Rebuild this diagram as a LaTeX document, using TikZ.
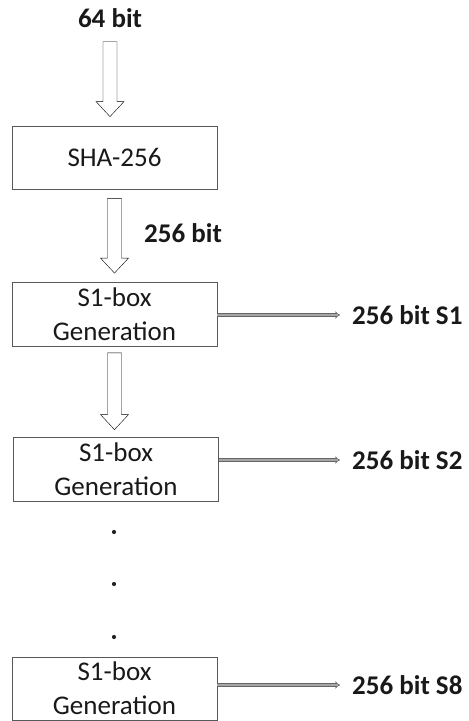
\documentclass[tikz,border=0pt]{standalone}
\usepackage{fontspec}
\setmainfont{Carlito}
\usetikzlibrary{calc,arrows.meta}

\tikzset{
  box/.style={draw=black!65, line width=0.8pt, minimum width=205pt, minimum height=64pt,
    align=center, text=black!90, font=\fontsize{27}{34}\selectfont},
  lbl/.style={inner sep=2pt, text=black!90, font=\fontsize{27}{32}\selectfont\bfseries},
  dot/.style={circle, fill=black!85, inner sep=0pt, minimum size=4.2pt},
  % wide hollow arrow going down, #1 = gap at the top, #2 = gap at the tip
  hollow/.style 2 args={draw=black!65, line width=0.8pt, to path={
    let \p1=(\tikztostart.south), \p2=(\tikztotarget.north) in
    (\x1-7pt,\y1-#1) -- (\x1-7pt,\y2+#2+15pt) -- (\x1-14pt,\y2+#2+15pt) -- (\x1,\y2+#2)
    -- (\x1+14pt,\y2+#2+15pt) -- (\x1+7pt,\y2+#2+15pt) -- (\x1+7pt,\y1-#1) -- cycle}},
  % thin double arrow out to the key
  keyarrow/.style={draw=black!60, double=black!35, double distance=1.6pt, line width=0.8pt,
    -{Implies[length=4pt]}}
}

\begin{document}
\begin{tikzpicture}[x=1pt,y=-1pt]
    \useasboundingbox (0,0) rectangle (469,721);
    \coordinate (IN) at (110,18);
    \coordinate (H) at (114.5,157.5);
    \coordinate (A) at (114.5,314.5);
    \coordinate (B) at (116,469);
    \coordinate (C) at (114.5,688.5);
    \coordinate (OA) at (340,315);
    \coordinate (OB) at (340,460);
    \coordinate (OC) at (340,685);

    \node [lbl] (in) at (IN) {64 bit};
    \node [box, minimum height=63pt] (sha) at (H) {SHA-256};
    \node [box] (s1) at (A) {S1-box\\Generation};
    \node [box] (s2) at (B) {S1-box\\Generation};
    \node [box, minimum height=63pt] (s8) at (C) {S1-box\\Generation};

    \draw (in) to [hollow={12pt}{9pt}] (sha);
    \draw (sha) to [hollow={9pt}{9pt}] (s1);
    \draw (s1) to [hollow={6pt}{7pt}] (s2);
    \node [lbl, anchor=west] (w) at (142,233) {256 bit};

    \draw [keyarrow] (s1.east |- OA) -- (OA);
    \draw [keyarrow] (s2.east |- OB) -- (OB);
    \draw [keyarrow] (s8.east |- OC) -- (OC);
    \node [lbl, anchor=west] (k1) at (350,315) {256 bit S1};
    \node [lbl, anchor=west] (k2) at (350,460) {256 bit S2};
    \node [lbl, anchor=west] (k8) at (350,685) {256 bit S8};

    \foreach \y/\n in {532/1,584/2,637/3}
        \node [dot] (dot\n) at (114,\y) {};
\end{tikzpicture}
\end{document}
